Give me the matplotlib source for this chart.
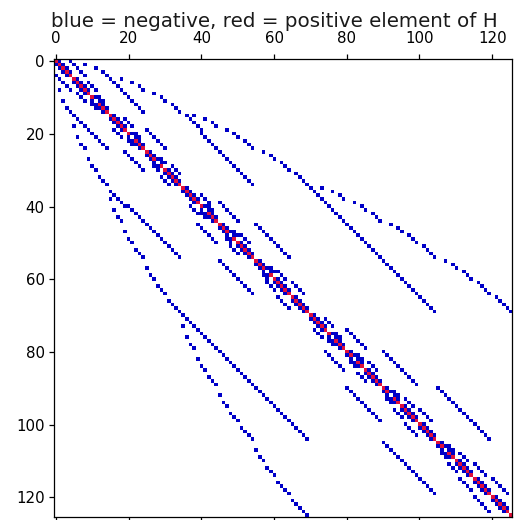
import numpy as np
import matplotlib
matplotlib.use("Agg")
import matplotlib.pyplot as plt
from matplotlib.colors import ListedColormap

size = 126
title = "blue = negative, red = positive element of H"
ticks = [0, 20, 40, 60, 80, 100, 120]

zero_diag_rows = [11,21,28,41,48,58,76,82,92,107]
band1_rows = [0,1,2,3,5,6,7,8,10,11,12,13,15,16,17,18,20,21,22,23,25,26,27,28,30,31,32,33,35,36,37,38,40,41,42,43,45,46,47,48,50,51,52,53,55,56,57,58,60,61,62,63,65,66,67,68,70,71,72,73,75,76,77,78,80,81,82,83,85,86,87,88,90,91,92,93,95,96,97,98,100,101,102,103,105,106,107,108,110,111,112,113,115,116,117,118,120,121,122,123]
band2_rows = [10,11,20,21,27,28,40,41,47,48,57,58,75,76,81,82,91,92,106,107]
off3_rows = [6,7,8,16,17,18,29,30,31,37,38,39,48,49,50,58,59,60,71,72,73,83,84,85,93,94,95,108,109,110]
off4_rows = [0,1,2,3,4,61,62,63,64,96,97,98,99,111,112,113,114]
off5_rows = [115,116,117,118,119]
off6_rows = [19,20,21,22,23,24,39,40,41,42,43,44,74,75,76,77,78,79]
off10_rows = [3,4,5,6,7,8,9,10,11,12,13,14,45,46,47,48,49,50,51,52,53,54,80,81,82,83,84,85,86,87,88,89]
off15_rows = [90,91,92,93,94,95,96,97,98,99,100,101,102,103,104]
off20_rows = [20,21,22,23,24,25,26,27,28,29,30,31,32,33,34]
off35_rows = [31,32,33,34,35,36,37,38,39,40,41,42,43,44,45,46,47,48,49,50,51,52,53,54,55,56,57,58,59,60,61,62,63,64,65,66,67,68,69]
arc_rows = [1,2,5,6,7,8,9,10,11,12,13,14,15,16,17,18,19,15,16,17,18,19,20,21,22,23,24,25,26,27,28,29,30,35,36,37,38,39,40,41,42,43,44,45,46,47,48,49,50,51,52,53,54,55,56,57,58,59,60,61,62,63,64,65,66,67,68,69]
arc_cols = [8,11,18,21,23,24,27,29,30,32,33,34,36,37,38,39,40,38,41,43,44,47,49,50,52,53,54,57,59,60,62,63,64,73,76,78,79,82,84,85,87,88,89,92,94,95,97,98,99,101,102,103,104,107,109,110,112,113,114,116,117,118,119,121,122,123,124,125]

H = np.zeros((size, size))
H[np.arange(size), np.arange(size)] = 1
H[zero_diag_rows, zero_diag_rows] = 0
H[arc_rows, arc_cols] = -1
for rows, k in [(band1_rows,1),(band2_rows,2),(off3_rows,3),(off4_rows,4),(off5_rows,5),(off6_rows,6),
                (off10_rows,10),(off15_rows,15),(off20_rows,20),(off35_rows,35)]:
    r = np.array(rows)
    H[r, r + k] = -1
H = np.where(H.T != 0, H.T, H)

fig = plt.figure(figsize=(5.19, 5.20), dpi=100)
ax = fig.add_axes([54/519, 1 - 517.3/520, 458.3/519, 458/520])
cmap = ListedColormap(["#0000c8", "#ffffff", "#e0103a"])
ax.imshow(H, cmap=cmap, vmin=-1, vmax=1, interpolation="nearest", aspect="equal")
ax.set_xticks(ticks)
ax.set_yticks(ticks)
ax.tick_params(top=True, bottom=True, labeltop=True, labelbottom=False, labelsize=10.8, length=3.8, width=0.9, pad=3)
ax.tick_params(axis="x", pad=5.5)
for s in ax.spines.values():
    s.set_linewidth(0.9)
ax.set_title(title, fontsize=14.3, x=0.481, pad=1.5, color="#1a1a1a")
fig.savefig("out.png", dpi=100)
